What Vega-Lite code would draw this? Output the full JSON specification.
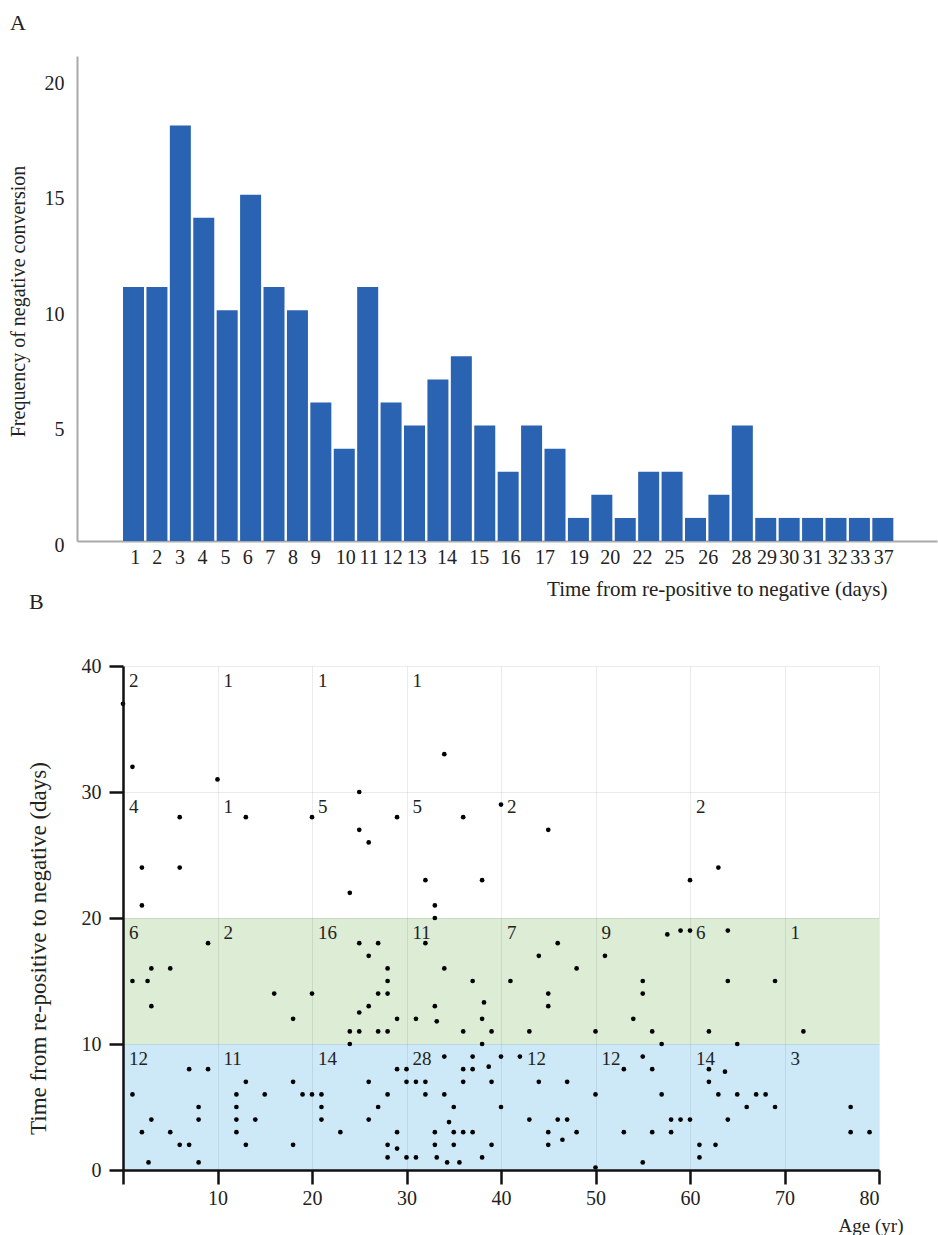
{
  "$schema": "https://vega.github.io/schema/vega-lite/v6.json",
  "padding": {"left": 8, "top": 12, "right": 0, "bottom": 0},
  "bounds": "flush",
  "spacing": 125,
  "config": {
    "font": "'Liberation Serif', 'Times New Roman', serif",
    "view": {"stroke": null},
    "axis": {"labelFont": "'Liberation Serif', 'Times New Roman', serif", "titleFont": "'Liberation Serif', 'Times New Roman', serif", "labelColor": "#222222", "titleColor": "#222222", "titleFontWeight": "normal"},
    "text": {"font": "'Liberation Serif', 'Times New Roman', serif"},
    "title": {"font": "'Liberation Serif', 'Times New Roman', serif", "fontWeight": "normal", "color": "#222222"}
  },
  "datasets": {
    "bars": [
      {"bar": 1, "frequency": 11}, {"bar": 2, "frequency": 11}, {"bar": 3, "frequency": 18},
      {"bar": 4, "frequency": 14}, {"bar": 5, "frequency": 10}, {"bar": 6, "frequency": 15},
      {"bar": 7, "frequency": 11}, {"bar": 8, "frequency": 10}, {"bar": 9, "frequency": 6},
      {"bar": 10, "frequency": 4}, {"bar": 11, "frequency": 11}, {"bar": 12, "frequency": 6},
      {"bar": 13, "frequency": 5}, {"bar": 14, "frequency": 7}, {"bar": 15, "frequency": 8},
      {"bar": 16, "frequency": 5}, {"bar": 17, "frequency": 3}, {"bar": 18, "frequency": 5},
      {"bar": 19, "frequency": 4}, {"bar": 20, "frequency": 1}, {"bar": 21, "frequency": 2},
      {"bar": 22, "frequency": 1}, {"bar": 23, "frequency": 3}, {"bar": 24, "frequency": 3},
      {"bar": 25, "frequency": 1}, {"bar": 26, "frequency": 2}, {"bar": 27, "frequency": 5},
      {"bar": 28, "frequency": 1}, {"bar": 29, "frequency": 1}, {"bar": 30, "frequency": 1},
      {"bar": 31, "frequency": 1}, {"bar": 32, "frequency": 1}, {"bar": 33, "frequency": 1}
    ],
    "bands": [
      {"band": "0-10", "lo": 0, "hi": 10},
      {"band": "10-20", "lo": 10, "hi": 20}
    ],
    "cells": [
      {"age0": 0, "top": 40, "n": 2}, {"age0": 10, "top": 40, "n": 1}, {"age0": 20, "top": 40, "n": 1}, {"age0": 30, "top": 40, "n": 1},
      {"age0": 0, "top": 30, "n": 4}, {"age0": 10, "top": 30, "n": 1}, {"age0": 20, "top": 30, "n": 5}, {"age0": 30, "top": 30, "n": 5}, {"age0": 40, "top": 30, "n": 2}, {"age0": 60, "top": 30, "n": 2},
      {"age0": 0, "top": 20, "n": 6}, {"age0": 10, "top": 20, "n": 2}, {"age0": 20, "top": 20, "n": 16}, {"age0": 30, "top": 20, "n": 11}, {"age0": 40, "top": 20, "n": 7}, {"age0": 50, "top": 20, "n": 9}, {"age0": 60, "top": 20, "n": 6}, {"age0": 70, "top": 20, "n": 1},
      {"age0": 0, "top": 10, "n": 12}, {"age0": 10, "top": 10, "n": 11}, {"age0": 20, "top": 10, "n": 14}, {"age0": 30, "top": 10, "n": 28}, {"age0": 40, "top": 10, "n": 12}, {"age0": 50, "top": 10, "n": 12}, {"age0": 60, "top": 10, "n": 14}, {"age0": 70, "top": 10, "n": 3}
    ],
    "patients": [
      {"age": 0, "days": 37}, {"age": 1, "days": 32}, {"age": 10, "days": 31}, {"age": 25, "days": 30}, {"age": 34, "days": 33},
      {"age": 6, "days": 28}, {"age": 2, "days": 24}, {"age": 6, "days": 24}, {"age": 2, "days": 21}, {"age": 13, "days": 28},
      {"age": 20, "days": 28}, {"age": 25, "days": 27}, {"age": 26, "days": 26}, {"age": 29, "days": 28}, {"age": 24, "days": 22},
      {"age": 32, "days": 23}, {"age": 33, "days": 21}, {"age": 33, "days": 20}, {"age": 36, "days": 28}, {"age": 38, "days": 23},
      {"age": 40, "days": 29}, {"age": 45, "days": 27}, {"age": 60, "days": 23}, {"age": 63, "days": 24},
      {"age": 9, "days": 18}, {"age": 3, "days": 16}, {"age": 5, "days": 16}, {"age": 1, "days": 15}, {"age": 2.6, "days": 15}, {"age": 3, "days": 13},
      {"age": 16, "days": 14}, {"age": 18, "days": 12},
      {"age": 20, "days": 14}, {"age": 24, "days": 11}, {"age": 24, "days": 10}, {"age": 25, "days": 18}, {"age": 25, "days": 12.5}, {"age": 25, "days": 11},
      {"age": 26, "days": 17}, {"age": 26, "days": 13}, {"age": 27, "days": 18}, {"age": 27, "days": 14}, {"age": 27, "days": 11}, {"age": 28, "days": 16},
      {"age": 28, "days": 15}, {"age": 28, "days": 14}, {"age": 28, "days": 11}, {"age": 29, "days": 12},
      {"age": 32, "days": 18}, {"age": 34, "days": 16}, {"age": 37, "days": 15}, {"age": 38.2, "days": 13.3}, {"age": 33, "days": 13}, {"age": 33.2, "days": 11.8},
      {"age": 31, "days": 12}, {"age": 38, "days": 12}, {"age": 36, "days": 11}, {"age": 39, "days": 11}, {"age": 38, "days": 10},
      {"age": 46, "days": 18}, {"age": 44, "days": 17}, {"age": 48, "days": 16}, {"age": 41, "days": 15}, {"age": 45, "days": 14}, {"age": 45, "days": 13}, {"age": 43, "days": 11},
      {"age": 51, "days": 17}, {"age": 50, "days": 11}, {"age": 54, "days": 12}, {"age": 57.6, "days": 18.7}, {"age": 59, "days": 19}, {"age": 55, "days": 15},
      {"age": 55, "days": 14}, {"age": 56, "days": 11}, {"age": 57, "days": 10},
      {"age": 60, "days": 19}, {"age": 64, "days": 19}, {"age": 64, "days": 15}, {"age": 69, "days": 15}, {"age": 62, "days": 11}, {"age": 65, "days": 10},
      {"age": 72, "days": 11},
      {"age": 1, "days": 6}, {"age": 7, "days": 8}, {"age": 9, "days": 8}, {"age": 8, "days": 5}, {"age": 8, "days": 4}, {"age": 3, "days": 4},
      {"age": 2, "days": 3}, {"age": 5, "days": 3}, {"age": 6, "days": 2}, {"age": 7, "days": 2}, {"age": 2.7, "days": 0.6}, {"age": 8, "days": 0.6},
      {"age": 13, "days": 7}, {"age": 18, "days": 7}, {"age": 12, "days": 6}, {"age": 15, "days": 6}, {"age": 19, "days": 6}, {"age": 12, "days": 5},
      {"age": 12, "days": 4}, {"age": 14, "days": 4}, {"age": 12, "days": 3}, {"age": 13, "days": 2}, {"age": 18, "days": 2},
      {"age": 20, "days": 6}, {"age": 21, "days": 6}, {"age": 21, "days": 5}, {"age": 21, "days": 4}, {"age": 23, "days": 3}, {"age": 26, "days": 7},
      {"age": 27, "days": 5}, {"age": 26, "days": 4}, {"age": 28, "days": 6}, {"age": 29, "days": 8}, {"age": 29, "days": 3}, {"age": 28, "days": 2},
      {"age": 29, "days": 1.7}, {"age": 28, "days": 1},
      {"age": 34, "days": 9}, {"age": 37, "days": 9}, {"age": 38.7, "days": 8.2}, {"age": 30, "days": 8}, {"age": 36, "days": 8}, {"age": 37, "days": 8},
      {"age": 30, "days": 7}, {"age": 31, "days": 7}, {"age": 32, "days": 7}, {"age": 36, "days": 7}, {"age": 39, "days": 7}, {"age": 32, "days": 6},
      {"age": 34, "days": 6}, {"age": 35, "days": 5}, {"age": 34.5, "days": 3.8}, {"age": 33, "days": 3}, {"age": 35, "days": 3}, {"age": 36, "days": 3},
      {"age": 37, "days": 3}, {"age": 33, "days": 2}, {"age": 35, "days": 2}, {"age": 39, "days": 2}, {"age": 30, "days": 1}, {"age": 31, "days": 1},
      {"age": 33.2, "days": 1}, {"age": 38, "days": 1}, {"age": 34.3, "days": 0.6}, {"age": 35.6, "days": 0.6},
      {"age": 40, "days": 9}, {"age": 42, "days": 9}, {"age": 44, "days": 7}, {"age": 47, "days": 7}, {"age": 40, "days": 5}, {"age": 43, "days": 4},
      {"age": 46, "days": 4}, {"age": 47, "days": 4}, {"age": 45, "days": 3}, {"age": 48, "days": 3}, {"age": 46.5, "days": 2.4}, {"age": 45, "days": 2},
      {"age": 50, "days": 6}, {"age": 50, "days": 0.2}, {"age": 53, "days": 8}, {"age": 53, "days": 3}, {"age": 55, "days": 0.6}, {"age": 55, "days": 9},
      {"age": 56, "days": 8}, {"age": 57, "days": 6}, {"age": 58, "days": 4}, {"age": 59, "days": 4}, {"age": 56, "days": 3}, {"age": 58, "days": 3},
      {"age": 60, "days": 4}, {"age": 62, "days": 8}, {"age": 63.7, "days": 7.8}, {"age": 62, "days": 7}, {"age": 63, "days": 6}, {"age": 65, "days": 6},
      {"age": 67, "days": 6}, {"age": 68, "days": 6}, {"age": 66, "days": 5}, {"age": 69, "days": 5}, {"age": 64, "days": 4}, {"age": 61, "days": 2},
      {"age": 62.7, "days": 2}, {"age": 61, "days": 1},
      {"age": 77, "days": 5}, {"age": 77, "days": 3}, {"age": 79, "days": 3}
    ]
  },
  "vconcat": [
    {
      "width": 814,
      "height": 485,
      "title": {"text": "A", "anchor": "start", "frame": "bounds", "fontSize": 22, "offset": 21, "dx": 2},
      "data": {"name": "bars"},
      "mark": {"type": "bar", "width": 21, "color": "#2a63b1"},
      "encoding": {
        "x": {
          "field": "bar", "type": "quantitative",
          "scale": {"domain": [-1.2, 35.1], "range": [-46, 814], "nice": false, "zero": false},
          "axis": {
            "values": [1.05, 1.99, 2.96, 3.93, 4.91, 5.86, 6.82, 7.79, 8.76, 10.04, 11.04, 12.05, 13.07, 14.37, 15.74, 17.08, 18.55, 20, 21.34, 22.72, 24.08, 25.52, 26.94, 28.03, 28.98, 29.99, 31.05, 32.01, 33.02],
            "labelExpr": "['1','2','3','4','5','6','7','8','9','10','11','12','13','14','15','16','17','19','20','22','25','26','28','29','30','31','32','33','37'][indexof([1.05, 1.99, 2.96, 3.93, 4.91, 5.86, 6.82, 7.79, 8.76, 10.04, 11.04, 12.05, 13.07, 14.37, 15.74, 17.08, 18.55, 20, 21.34, 22.72, 24.08, 25.52, 26.94, 28.03, 28.98, 29.99, 31.05, 32.01, 33.02], datum.value)]",
            "ticks": false, "grid": false,
            "domainColor": "#aaaaaa", "domainWidth": 2,
            "labelFontSize": 20, "labelPadding": 6, "labelFlush": false, "labelOverlap": false,
            "title": "Time from re-positive to negative (days)", "titleFontSize": 21,
            "titleAlign": "right", "titleX": 764, "titleY": 54, "titleBaseline": "alphabetic"
          }
        },
        "y": {
          "field": "frequency", "type": "quantitative",
          "scale": {"domain": [0, 21.01], "nice": false},
          "axis": {
            "values": [0, 5, 10, 15, 20], "ticks": false, "grid": false, "offset": 46,
            "domainColor": "#aaaaaa", "domainWidth": 2,
            "labelFontSize": 20, "labelPadding": 13, "labelOffset": 4,
            "title": "Frequency of negative conversion", "titleFontSize": 20,
            "titleX": -59, "titleY": 245, "titleBaseline": "middle", "titleAlign": "center"
          }
        }
      }
    },
    {
      "width": 756,
      "height": 504,
      "title": {"text": "B", "anchor": "start", "frame": "bounds", "fontSize": 22, "offset": 42, "dx": 2},
      "layer": [
        {
          "data": {"name": "bands"},
          "mark": {"type": "rect"},
          "encoding": {
            "x": {
              "datum": 0, "type": "quantitative",
              "scale": {"domain": [0, 80], "nice": false},
              "axis": {
                "values": [0, 10, 20, 30, 40, 50, 60, 70, 80],
                "labelExpr": "datum.value == 0 ? '' : datum.label",
                "zindex": 1, "grid": true, "gridColor": "#000000", "gridOpacity": 0.08,
                "domainColor": "#111111", "domainWidth": 2.5,
                "tickColor": "#111111", "tickWidth": 2.5, "tickSize": 14,
                "labelFontSize": 20, "labelPadding": 4,
                "title": "Age (yr)", "titleFontSize": 19,
                "titleAlign": "right", "titleX": 780, "titleY": 61, "titleBaseline": "alphabetic"
              }
            },
            "x2": {"datum": 80},
            "y": {
              "field": "lo", "type": "quantitative",
              "scale": {"domain": [0, 40], "nice": false},
              "axis": {
                "values": [0, 10, 20, 30, 40],
                "zindex": 1, "grid": true, "gridColor": "#000000", "gridOpacity": 0.08,
                "domainColor": "#111111", "domainWidth": 2.5,
                "tickColor": "#111111", "tickWidth": 2.5, "tickSize": 14,
                "labelFontSize": 20, "labelPadding": 8,
                "title": "Time from re-positive to negative (days)", "titleFontSize": 23,
                "titleX": -85, "titleY": 282, "titleBaseline": "middle", "titleAlign": "center"
              }
            },
            "y2": {"field": "hi"},
            "color": {
              "field": "band", "type": "nominal",
              "scale": {"domain": ["0-10", "10-20"], "range": ["#cde9f7", "#dcecd5"]},
              "legend": null
            }
          }
        },
        {
          "data": {"name": "patients"},
          "mark": {"type": "circle", "size": 22, "color": "#000000", "opacity": 1},
          "encoding": {
            "x": {"field": "age", "type": "quantitative", "title": "Age (yr)"},
            "y": {"field": "days", "type": "quantitative", "title": "Time from re-positive to negative (days)"}
          }
        },
        {
          "data": {"name": "cells"},
          "transform": [{"filter": "!(datum.age0 == 40 && datum.top == 10)"}],
          "mark": {"type": "text", "align": "left", "baseline": "top", "dx": 6, "dy": 6, "fontSize": 19, "color": "#222222"},
          "encoding": {
            "x": {"field": "age0", "type": "quantitative", "title": "Age (yr)"},
            "y": {"field": "top", "type": "quantitative", "title": "Time from re-positive to negative (days)"},
            "text": {"field": "n", "type": "quantitative"}
          }
        },
        {
          "data": {"name": "cells"},
          "transform": [{"filter": "datum.age0 == 40 && datum.top == 10"}],
          "mark": {"type": "text", "align": "left", "baseline": "top", "dx": 26, "dy": 6, "fontSize": 19, "color": "#222222"},
          "encoding": {
            "x": {"field": "age0", "type": "quantitative", "title": "Age (yr)"},
            "y": {"field": "top", "type": "quantitative", "title": "Time from re-positive to negative (days)"},
            "text": {"field": "n", "type": "quantitative"}
          }
        }
      ]
    }
  ]
}
